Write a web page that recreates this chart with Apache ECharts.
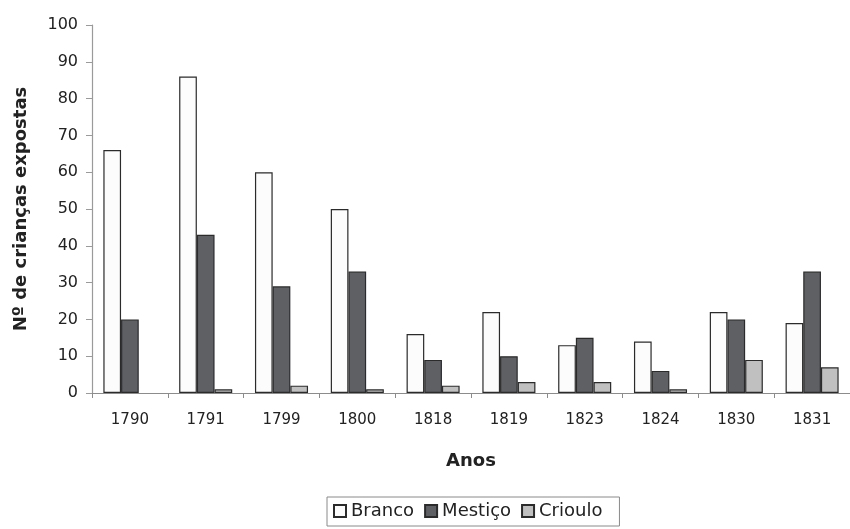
<!DOCTYPE html>
<html>
<head>
<meta charset="utf-8">
<script src="https://cdn.jsdelivr.net/npm/echarts@6/dist/echarts.min.js"></script>
<style>html,body{margin:0;padding:0;background:#fff}#c{width:850px;height:529px}</style>
</head>
<body>
<div id="c"></div>
<script>
const categories = ['1790','1791','1799','1800','1818','1819','1823','1824','1830','1831'];
const branco  = [66, 86, 60, 50, 16, 22, 13, 14, 22, 19];
const mestico = [20, 43, 29, 33, 9, 10, 15, 6, 20, 33];
const crioulo = [0, 1, 2, 1, 2, 3, 3, 1, 9, 7];
const seriesNames = ['Branco', 'Mestiço', 'Crioulo'];
const yTicks = [0, 10, 20, 30, 40, 50, 60, 70, 80, 90, 100];

const FONT = 'DejaVu Sans';
const noZero = arr => arr.map(v => (v === 0 ? null : v));
const chart = echarts.init(document.getElementById('c'), null, {renderer: 'canvas'});
const barBorder = {borderColor: '#2b2b2b', borderWidth: 1.2};
chart.setOption({
  animation: false,
  backgroundColor: '#ffffff',
  textStyle: {fontFamily: FONT},
  grid: {left: 92, right: -2, top: 25, height: 368, containLabel: false},
  legend: {
    data: seriesNames,
    top: 497, left: 327,
    orient: 'horizontal',
    itemWidth: 12, itemHeight: 12, itemGap: 10,
    icon: 'rect',
    borderColor: '#8a8a8a', borderWidth: 1,
    padding: [5, 17, 6, 6],
    textStyle: {fontFamily: FONT, fontSize: 18, color: '#222'}
  },
  xAxis: {
    type: 'category',
    data: categories,
    name: 'Anos',
    nameLocation: 'middle',
    nameGap: 59,
    nameTextStyle: {fontFamily: FONT, fontSize: 18, fontWeight: 'bold', color: '#222'},
    axisLine: {lineStyle: {color: '#8c8c8c', width: 1.2}},
    axisTick: {show: true, length: 5, lineStyle: {color: '#8c8c8c'}},
    axisLabel: {fontFamily: FONT, fontSize: 15, color: '#222', margin: 20}
  },
  yAxis: {
    type: 'value',
    min: 0, max: 100, interval: 10,
    name: 'Nº de crianças expostas',
    nameLocation: 'middle',
    nameRotate: 90,
    nameGap: 62,
    nameTextStyle: {fontFamily: FONT, fontSize: 18, fontWeight: 'bold', color: '#222'},
    axisLine: {show: true, lineStyle: {color: '#9a9a9a', width: 1.2}},
    axisTick: {show: true, length: 6, lineStyle: {color: '#9a9a9a'}},
    splitLine: {show: false},
    axisLabel: {fontFamily: FONT, fontSize: 16, color: '#222', margin: 14,
      formatter: v => yTicks.includes(v) ? String(v) : ''}
  },
  series: [
    {name: seriesNames[0], type: 'bar', data: noZero(branco), barGap: '0%', barCategoryGap: '30%',
     itemStyle: Object.assign({color: '#fcfcfc'}, barBorder)},
    {name: seriesNames[1], type: 'bar', data: noZero(mestico), barGap: '0%', barCategoryGap: '30%',
     itemStyle: Object.assign({color: '#5f6064'}, barBorder)},
    {name: seriesNames[2], type: 'bar', data: noZero(crioulo), barGap: '0%', barCategoryGap: '30%',
     itemStyle: Object.assign({color: '#c0c0c0'}, barBorder)}
  ]
});
</script>
</body>
</html>
